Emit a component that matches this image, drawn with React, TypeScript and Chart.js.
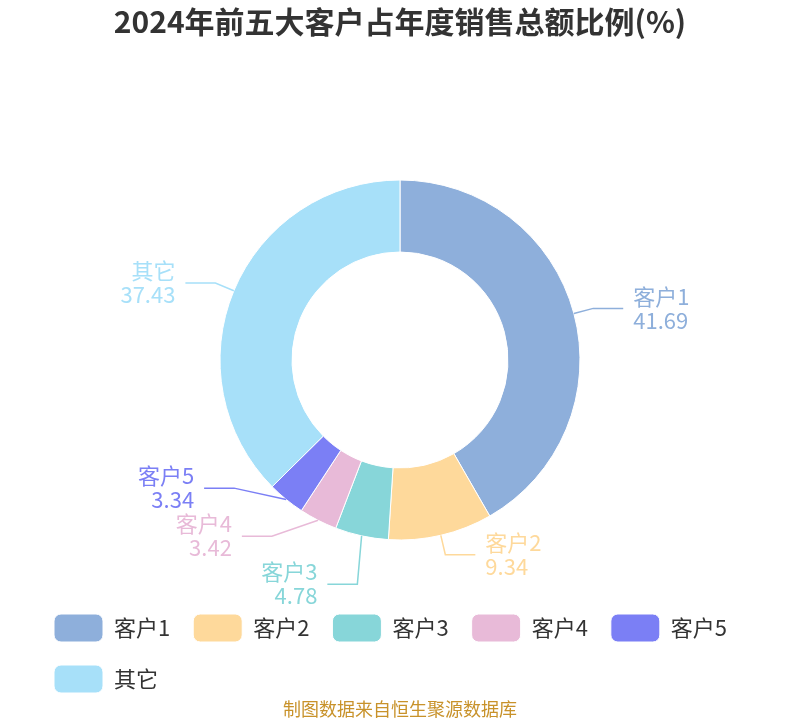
import { useEffect, useRef } from 'react';
import { Chart, registerables } from 'chart.js';

Chart.register(...registerables);

const categories = ['客户1', '客户2', '客户3', '客户4', '客户5', '其它'];
const shares = [41.69, 9.34, 4.78, 3.42, 3.34, 37.43];
const sliceColors = ['#8eafdb', '#fed99b', '#87d6d9', '#e8bad8', '#7b7ff5', '#a7e0f9'];

const TITLE = '2024年前五大客户占年度销售总额比例(%)';
const SOURCE = '制图数据来自恒生聚源数据库';
const FONT = '"Noto Sans CJK SC", "Noto Sans", sans-serif';

// ECharts-like outside labels: two-segment leader line + two-line text
const outsideLabels = {
  id: 'outsideLabels',
  afterDatasetsDraw(chart: any) {
    const ctx = chart.ctx;
    const meta = chart.getDatasetMeta(0);
    const len = 20;
    const len2 = 30;
    const gap = 48;
    const items: any[] = [];

    meta.data.forEach((arc: any, i: number) => {
      const p = arc.getProps(['x', 'y', 'startAngle', 'endAngle', 'outerRadius'], true);
      const mid = (p.startAngle + p.endAngle) / 2;
      const cos = Math.cos(mid);
      const sin = Math.sin(mid);
      const rA = p.outerRadius + len;
      items.push({
        i,
        cx: p.x,
        cy: p.y,
        rA,
        right: cos >= 0,
        sx: p.x + cos * p.outerRadius,
        sy: p.y + sin * p.outerRadius,
        x0: p.x + cos * rA,
        y0: p.y + sin * rA,
      });
    });

    [true, false].forEach((side) => {
      const list = items.filter((it) => it.right === side).sort((a, b) => a.y0 - b.y0);
      list.forEach((it) => {
        it.x = it.x0;
        it.y = it.y0;
      });
      // merge overlapping labels into groups centred on their wanted positions
      let groups = list.map((it) => ({ members: [it], top: it.y0 }));
      let merged = true;
      while (merged) {
        merged = false;
        for (let g = 1; g < groups.length; g++) {
          const a = groups[g - 1];
          const b = groups[g];
          if (a.top + a.members.length * gap > b.top) {
            const members = [...a.members, ...b.members];
            const top = members.reduce((s, m, k) => s + m.y0 - k * gap, 0) / members.length;
            groups.splice(g - 1, 2, { members, top });
            merged = true;
            break;
          }
        }
      }
      let adjusted = false;
      groups.forEach((g) =>
        g.members.forEach((m, k) => {
          m.y = g.top + k * gap;
          if (Math.abs(m.y - m.y0) > 0.5) adjusted = true;
        })
      );
      if (!adjusted) return;
      // put shifted elbows back on an ellipse
      [true, false].forEach((below) => {
        const semi = list.filter((it) => (it.y > it.cy) === below);
        if (!semi.length) return;
        let far = semi[0];
        semi.forEach((it) => {
          if (Math.abs(it.y - it.cy) >= Math.abs(far.y - far.cy)) far = it;
        });
        const dy = Math.abs(far.y - far.cy);
        const dx0 = far.x0 - far.cx;
        const rB = Math.abs(dx0) < far.rA ? dy / Math.sqrt(1 - (dx0 * dx0) / (far.rA * far.rA)) : far.rA;
        semi.forEach((it) => {
          const ddy = Math.abs(it.y - it.cy);
          const dx = it.rA * Math.sqrt(Math.max(0, 1 - (ddy * ddy) / (rB * rB)));
          it.x = it.cx + (side ? dx : -dx);
        });
      });
    });

    ctx.save();
    items.forEach((it) => {
      const color = sliceColors[it.i];
      const dir = it.right ? 1 : -1;
      const ex = it.x + dir * len2;
      ctx.strokeStyle = color;
      ctx.lineWidth = 1.5;
      ctx.beginPath();
      ctx.moveTo(it.sx, it.sy);
      ctx.lineTo(it.x, it.y);
      ctx.lineTo(ex, it.y);
      ctx.stroke();

      ctx.fillStyle = color;
      ctx.font = `22px ${FONT}`;
      ctx.textAlign = it.right ? 'left' : 'right';
      ctx.textBaseline = 'middle';
      const tx = ex + dir * 10;
      ctx.fillText(categories[it.i], tx, it.y - 12);
      ctx.fillText(shares[it.i].toFixed(2), tx, it.y + 12);
    });
    ctx.restore();
  },
  afterDraw(chart: any) {
    const ctx = chart.ctx;
    ctx.save();
    ctx.fillStyle = '#c8922a';
    ctx.font = `18px ${FONT}`;
    ctx.textAlign = 'center';
    ctx.textBaseline = 'middle';
    ctx.fillText(SOURCE, chart.width / 2, 709);
    ctx.restore();
  },
};

export default function App() {
  const chartRef = useRef<HTMLCanvasElement>(null);
  const chartInstance = useRef<Chart | null>(null);

  useEffect(() => {
    document.body.style.margin = '0';
    if (!chartRef.current) return;
    if (chartInstance.current) {
      chartInstance.current.destroy();
    }
    const ctx = chartRef.current.getContext('2d');
    if (!ctx) return;

    chartInstance.current = new Chart(ctx, {
      type: 'doughnut',
      data: {
        labels: categories,
        datasets: [
          {
            data: shares,
            backgroundColor: sliceColors,
            borderColor: '#ffffff',
            borderWidth: 1,
            radius: 180,
            cutout: '60%',
          },
        ],
      },
      options: {
        responsive: false,
        animation: false,
        layout: {
          padding: { left: 31, right: 31, top: 0, bottom: 20 },
        },
        plugins: {
          title: {
            display: true,
            text: TITLE,
            color: '#333333',
            font: { size: 30, weight: 'bold', family: FONT, lineHeight: 1.2 },
            padding: { top: 4, bottom: 89 },
          },
          legend: {
            position: 'bottom',
            align: 'start',
            maxHeight: 109,
            labels: {
              boxWidth: 49,
              boxHeight: 28,
              useBorderRadius: true,
              borderRadius: 7,
              padding: 23,
              color: '#333333',
              font: { size: 22, family: FONT },
            },
          },
          tooltip: { enabled: false },
        },
      },
      plugins: [outsideLabels],
    } as any);

    return () => {
      if (chartInstance.current) {
        chartInstance.current.destroy();
        chartInstance.current = null;
      }
    };
  }, []);

  return (
    <div style={{ width: 800, height: 720 }}>
      <canvas ref={chartRef} width={800} height={720} />
    </div>
  );
}
